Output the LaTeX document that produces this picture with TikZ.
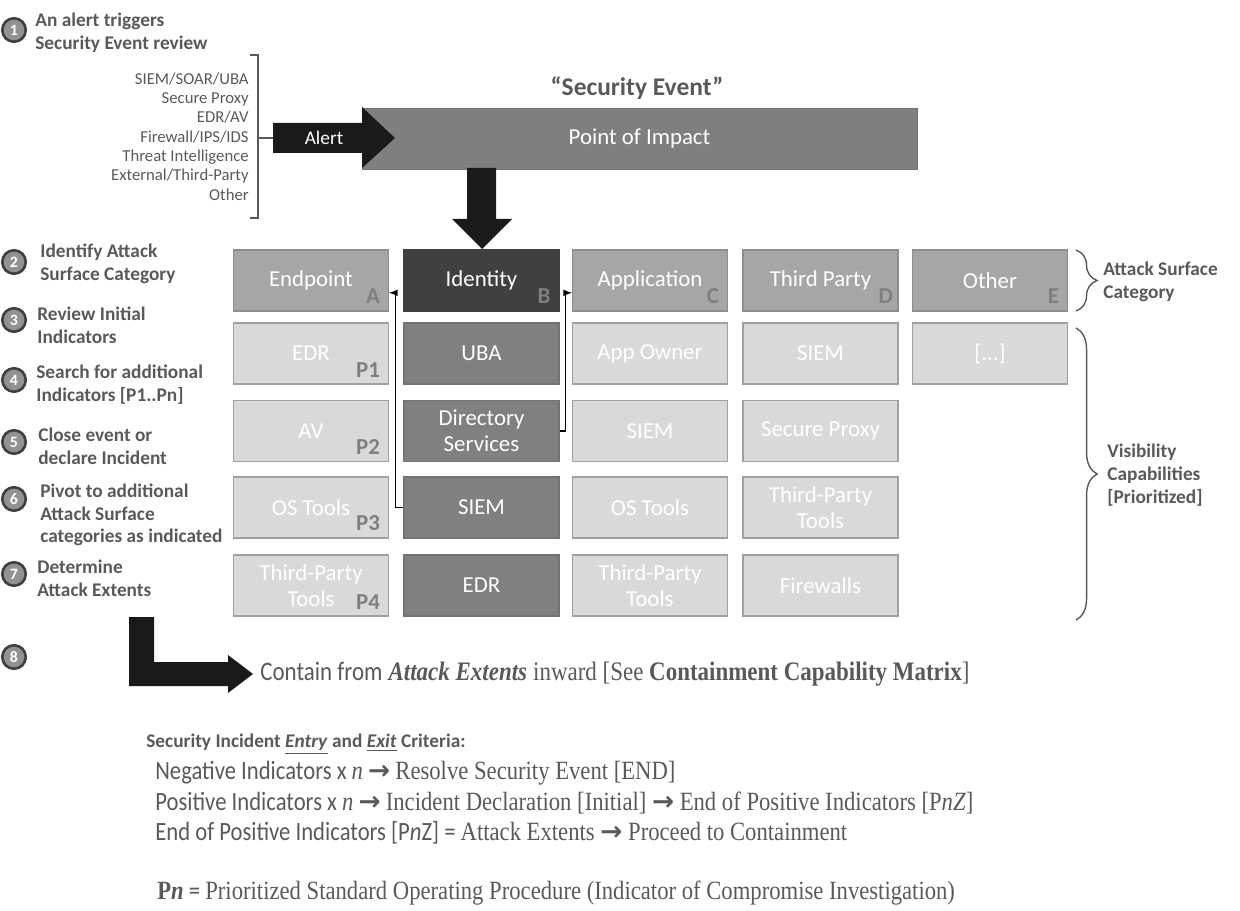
\documentclass[tikz,border=0pt]{standalone}
\usepackage{fontspec}
\setmainfont{Carlito}
\newfontfamily\condsans[FakeStretch=0.86]{Carlito}
\newfontfamily\condserif[FakeStretch=0.86]{Liberation Serif}
\newfontfamily\symb{DejaVu Sans}
\usetikzlibrary{decorations.pathreplacing, arrows}

\definecolor{txtgray}{HTML}{595959}
\definecolor{bargray}{HTML}{7F7F7F}
\definecolor{catgray}{HTML}{A6A6A6}
\definecolor{iddark}{HTML}{404040}
\definecolor{idmid}{HTML}{808080}
\definecolor{visgray}{HTML}{D9D9D9}
\definecolor{edgegray}{HTML}{A0A0A0}
\definecolor{arrowblk}{HTML}{1A1A1A}

\tikzset{
  cell/.style={minimum width=3.1cm, minimum height=1.22cm, inner sep=1pt, text=white,
    align=center, font=\fontsize{13}{14.7}\selectfont, line width=0.6pt},
  catbox/.style={cell, fill=catgray, draw=catgray!85!black},
  idbox/.style={cell, fill=idmid, draw=idmid!90!black},
  visbox/.style={cell, fill=visgray, draw=edgegray},
  tag/.style={anchor=south east, inner sep=0pt, text=bargray,
    font=\bfseries\fontsize{13}{13}\selectfont},
  stepnum/.style={circle, fill=bargray!85!white, draw=iddark, line width=1.5pt,
    minimum size=0.47cm, inner sep=0pt, text=white, font=\bfseries\fontsize{9}{9}\selectfont},
  steptxt/.style={anchor=west, align=left, inner sep=0pt, text=txtgray,
    font=\bfseries\fontsize{11}{13}\selectfont},
  brace/.style={txtgray, line width=0.8pt, decorate, decoration={brace, amplitude=12pt}},
  crit/.style={anchor=west, inner sep=0pt, text=txtgray, font=\condsans\fontsize{15}{15}\selectfont},
}

\begin{document}
\begin{tikzpicture}[x=0.02cm, y=-0.02cm]
\useasboundingbox (0,0) rectangle (1240,911);

% steps
\node[stepnum] (s1) at (14,30) {1};
\node[steptxt] (t1) at (35,32.5) {An alert triggers\\Security Event review};
\node[stepnum] (s2) at (14,262) {2};
\node[steptxt] (t2) at (40,263.5) {Identify Attack\\Surface Category};
\node[stepnum] (s3) at (14,320) {3};
\node[steptxt] (t3) at (37,325.5) {Review Initial\\Indicators};
\node[stepnum] (s4) at (14,380) {4};
\node[steptxt] (t4) at (36,384.5) {Search for additional\\Indicators [P1..Pn]};
\node[stepnum] (s5) at (14,442) {5};
\node[steptxt] (t5) at (38,446.5) {Close event or\\declare Incident};
\node[stepnum] (s6) at (14,499) {6};
\node[steptxt] (t6) at (40,515) {Pivot to additional\\Attack Surface\\categories as indicated};
\node[stepnum] (s7) at (14,574) {7};
\node[steptxt] (t7) at (37,578.5) {Determine\\Attack Extents};
\node[stepnum] (s8) at (14,657) {8};

% alert sources
\node[anchor=east, align=right, inner sep=0pt, text=txtgray, font=\fontsize{9.5}{11}\selectfont] (src) at (249,136.5)
  {SIEM/SOAR/UBA\\Secure Proxy\\EDR/AV\\Firewall/IPS/IDS\\Threat Intelligence\\External/Third-Party\\Other};
\draw[txtgray, line width=0.9pt] (250,55) -- (258,55) -- (258,218) -- (250,218);
\coordinate (brk) at (258,138);
\coordinate (tail) at (273,138);
\draw[txtgray, line width=0.9pt] (brk) -- (tail);

% security event
\node[text=txtgray, font=\bfseries\fontsize{14.5}{14.5}\selectfont] (title) at (637,88) {“Security Event”};
\node[fill=bargray, draw=bargray!90!black, minimum width=11.1cm, minimum height=1.22cm, text=white,
  font=\fontsize{13}{13}\selectfont] (poi) at (639.5,138.5) {Point of Impact};
\fill[arrowblk] (tail |- 0,123) -- (362,123) -- (362,107) -- (395,138) -- (362,168) -- (362,153) -- (tail |- 0,153) -- cycle;
\node[text=white, inner sep=0pt, font=\fontsize{11}{11}\selectfont] (alert) at (324,138) {Alert};
\fill[arrowblk] (467,168) -- (496,168) -- (496,219) -- (512,219) -- (482,249) -- (452,219) -- (467,219) -- cycle;

% attack surface categories
\node[catbox] (ep) at (311,280.5) {Endpoint};
\node[catbox, fill=iddark, draw=iddark] (id) at (481.5,280.5) {Identity};
\node[catbox] (app) at (650,280.5) {Application};
\node[catbox] (tp) at (820.5,280.5) {Third Party};
\node[catbox] (oth) at (990,280.5) {Other};

% visibility capabilities
\node[visbox] (edr) at (311,353.5) {EDR};
\node[idbox] (uba) at (481.5,353.5) {UBA};
\node[visbox] (owner) at (650,353.5) {App Owner};
\node[visbox] (siemd) at (820.5,353.5) {SIEM};
\node[visbox] (more) at (990,353.5) {[...]};

\node[visbox] (av) at (311,431) {AV};
\node[idbox] (ds) at (481.5,431) {Directory\\Services};
\node[visbox] (siemc) at (650,431) {SIEM};
\node[visbox] (proxy) at (820.5,431) {Secure Proxy};

\node[visbox] (ost) at (311,507.5) {OS Tools};
\node[idbox] (siemb) at (481.5,507.5) {SIEM};
\node[visbox] (ostc) at (650,507.5) {OS Tools};
\node[visbox] (tpd) at (820.5,507.5) {Third-Party\\Tools};

\node[visbox] (tpa) at (311,585.5) {Third-Party\\Tools};
\node[idbox] (edrb) at (481.5,585.5) {EDR};
\node[visbox] (tpc) at (650,585.5) {Third-Party\\Tools};
\node[visbox] (fw) at (820.5,585.5) {Firewalls};

% letters
\node[tag] at ([shift={(-5pt,4.5pt)}]ep.south east) {A};
\node[tag] at ([shift={(-5pt,4.5pt)}]id.south east) {B};
\node[tag] at ([shift={(-5pt,4.5pt)}]app.south east) {C};
\node[tag] at ([shift={(-3pt,4.5pt)}]tp.south east) {D};
\node[tag] at ([shift={(-5pt,4.5pt)}]oth.south east) {E};
\node[tag] at ([shift={(-5pt,4pt)}]edr.south east) {P1};
\node[tag] at ([shift={(-5pt,4pt)}]av.south east) {P2};
\node[tag] at ([shift={(-5pt,4pt)}]ost.south east) {P3};
\node[tag] at ([shift={(-5pt,4pt)}]tpa.south east) {P4};

% pivots
\draw[arrows={-latex}, line width=0.7pt] (siemb.west) -- ++(-8,0) |- ([yshift=-7pt]ep.east);
\draw[arrows={-latex}, line width=0.7pt] (ds.east) -- ++(6,0) |- ([yshift=-7pt]app.west);

% braces
\draw[brace] (1076,250) -- (1076,311);
\node[steptxt] (asc) at (1103,281.5) {Attack Surface\\Category};
\draw[brace] (1076,328) -- (1076,620);
\node[steptxt] (vis) at (1107,475) {Visibility\\Capabilities\\{[Prioritized]}};

% containment
\fill[arrowblk] (129,617) -- (154,617) -- (154,662) -- (228,662) -- (228,655) -- (253,674) -- (228,693) -- (228,686) -- (129,686) -- cycle;
\node[anchor=west, inner sep=0pt, text=txtgray, font=\fontsize{15.2}{15.2}\selectfont] (contain) at (260,674)
  {{\condsans Contain from} {\condserif\bfseries\itshape Attack Extents} {\condserif inward [See \textbf{Containment Capability Matrix}]}};

% criteria
\node[anchor=west, inner sep=0pt, text=txtgray, font=\bfseries\fontsize{11}{11}\selectfont] (crit) at (146,744)
  {Security Incident \underline{\textit{Entry}} and \underline{\textit{Exit}} Criteria:};
\node[crit] (neg) at (155,773) {Negative Indicators x {\condserif\itshape n} {\symb\bfseries →} {\condserif Resolve Security Event [END]}};
\node[crit] (pos) at (155,803) {Positive Indicators x {\condserif\itshape n} {\symb\bfseries →} {\condserif Incident Declaration [Initial] {\symb\bfseries →} End of Positive Indicators [P\textit{nZ}]}};
\node[crit] (endp) at (155,833) {End of Positive Indicators [P\textit{n}Z] = {\condserif Attack Extents {\symb\bfseries →} Proceed to Containment}};
\node[crit] (pn) at (157,893) {{\condserif\bfseries P\textit{n}} = {\condserif Prioritized Standard Operating Procedure (Indicator of Compromise Investigation)}};
\end{tikzpicture}
\end{document}
